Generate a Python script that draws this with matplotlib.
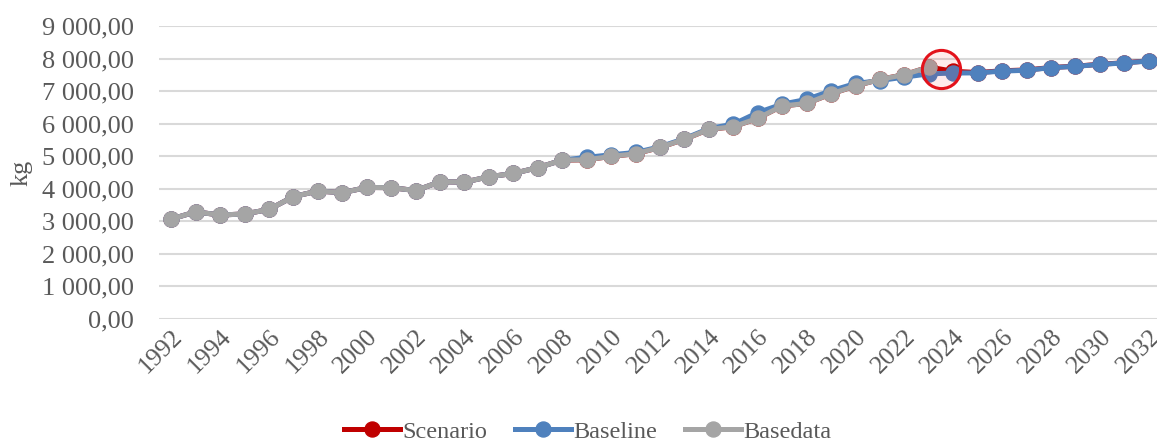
import numpy as np
import matplotlib.pyplot as plt
from matplotlib.lines import Line2D
from matplotlib.ticker import FuncFormatter

plt.rcParams['font.family'] = ['Liberation Serif', 'DejaVu Serif']

years = list(range(1992, 2033))

# observed data 1992-2023
basedata = [3070, 3290, 3195, 3225, 3365, 3760, 3930, 3880, 4040, 4035,
            3945, 4215, 4205, 4370, 4470, 4650, 4880, 4890, 4995, 5075,
            5270, 5520, 5825, 5905, 6165, 6545, 6620, 6915, 7160, 7360,
            7505, 7740]

# model run 1992-2032
baseline = [3070, 3290, 3195, 3225, 3365, 3760, 3930, 3880, 4040, 4035,
            3945, 4215, 4205, 4370, 4470, 4650, 4880, 4965, 5045, 5115,
            5290, 5540, 5850, 5985, 6340, 6600, 6745, 7010, 7235, 7325,
            7430, 7530, 7555, 7560, 7615, 7640, 7720, 7760, 7820, 7865,
            7925]

# scenario follows the data up to 2023, then the projection
scenario = basedata + [7610, 7570, 7625, 7650, 7725, 7765, 7825, 7870, 7930]

RED = '#C00000'
BLUE = '#4F81BD'
GREY = '#A5A5A5'
TXT = '#595959'

fig = plt.figure(figsize=(11.57, 4.43), dpi=100)
ax = fig.add_axes([159 / 1157, 1 - 319 / 443, 1002 / 1157, (319 - 26) / 443])

lw = 3.6
ms = 10.8
ax.plot(years, scenario, color=RED, lw=lw, marker='o', ms=ms, zorder=3)
ax.plot(years, baseline, color=BLUE, lw=lw, marker='o', ms=ms, zorder=4)
ax.plot(years[:len(basedata)], basedata, color=GREY, lw=lw, marker='o', ms=ms, zorder=5)

# highlight where the scenario leaves the observed data
i = len(basedata) - 1
cx = (years[i] + years[i + 1]) / 2
cy = (scenario[i] + scenario[i + 1]) / 2
ax.plot([cx], [cy], marker='o', ms=27.5, mfc=(1, 0, 0, 0.08),
        mec='#E3121B', mew=2.2, zorder=6)

ax.set_xlim(1991.5, 2032.5)
ax.set_ylim(0, 9000)
ax.set_yticks(np.arange(0, 9001, 1000))
ax.set_xticks(years[::2])
ax.yaxis.set_major_formatter(FuncFormatter(
    lambda v, p: '{:,.2f}'.format(v).replace(',', ' ').replace('.', ',')))

ax.grid(axis='y', color='#D9D9D9', lw=1.5)
ax.set_axisbelow(True)
for s in ax.spines.values():
    s.set_visible(False)
ax.tick_params(length=0, labelcolor=TXT)
ax.tick_params(axis='y', pad=18, labelsize=19)
ax.tick_params(axis='x', pad=5, labelsize=18.5)
for lab in ax.get_xticklabels():
    lab.set_rotation(45)
    lab.set_ha('right')
    lab.set_va('top')
    lab.set_rotation_mode('anchor')

ax.set_ylabel('kg', fontsize=19, color=TXT, labelpad=7)

handles = [Line2D([], [], color=c, lw=lw, marker='o', ms=ms) for c in (RED, BLUE, GREY)]
leg = fig.legend(handles, ['Scenario', 'Baseline', 'Basedata'], loc='center',
                 bbox_to_anchor=(0.508, 0.025), ncol=3, frameon=False,
                 fontsize=17.5, handlelength=2.3, handletextpad=0.1,
                 columnspacing=1.15, borderaxespad=0)
for t in leg.get_texts():
    t.set_color(TXT)

fig.savefig('out.png', dpi=100)
